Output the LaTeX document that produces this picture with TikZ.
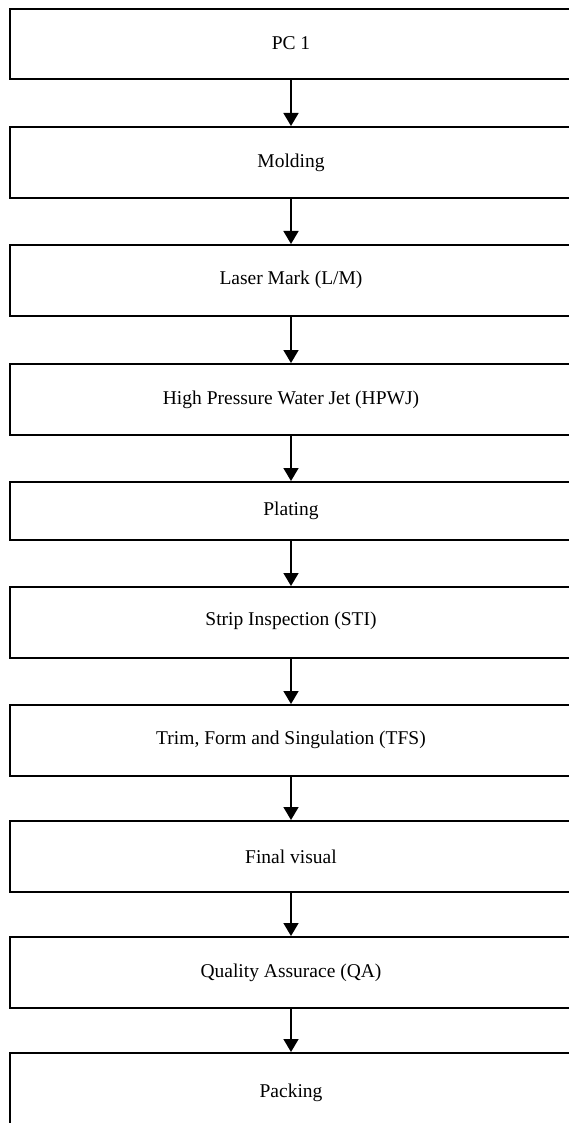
\documentclass[tikz,border=0pt]{standalone}
\usepackage{fontspec}
\setmainfont{Liberation Serif}
\usetikzlibrary{arrows.meta}
\begin{document}
\begin{tikzpicture}[x=1pt,y=-1pt,
  stepbox/.style={draw=black, line width=2pt, fill=white, rectangle,
    minimum width=562pt, inner sep=0pt, font=\fontsize{19.5}{22}\selectfont},
  flow/.style={line width=1.6pt, -{Triangle[width=15pt,length=13pt]}}]
\useasboundingbox (0,0) rectangle (569,1123);
\clip (0,0) rectangle (569,1123);
\fill[white] (0,0) rectangle (569,1123);
\node[stepbox, minimum height=70pt] (b1) at (291,44) {\raisebox{2pt}{PC 1}};
\node[stepbox, minimum height=71pt] (b2) at (291,162.5) {Molding};
\node[stepbox, minimum height=71pt] (b3) at (291,280.5) {\raisebox{6pt}{Laser Mark (L/M)}};
\node[stepbox, minimum height=71pt] (b4) at (291,399.5) {High Pressure Water Jet (HPWJ)};
\node[stepbox, minimum height=58pt] (b5) at (291,511) {Plating};
\node[stepbox, minimum height=71pt] (b6) at (291,622.5) {\raisebox{8pt}{Strip Inspection (STI)}};
\node[stepbox, minimum height=71pt] (b7) at (291,740.5) {\raisebox{5pt}{Trim, Form and Singulation (TFS)}};
\node[stepbox, minimum height=71pt] (b8) at (291,856.5) {Final visual};
\node[stepbox, minimum height=71pt] (b9) at (291,972.5) {Quality Assurace (QA)};
\node[stepbox, minimum height=80pt] (b10) at (291,1093) {\raisebox{4pt}{Packing}};
\foreach \a/\b in {b1/b2,b2/b3,b3/b4,b4/b5,b5/b6,b6/b7,b7/b8,b8/b9,b9/b10}
  \draw[flow] (\a.south) -- (\b.north);
\end{tikzpicture}
\end{document}
